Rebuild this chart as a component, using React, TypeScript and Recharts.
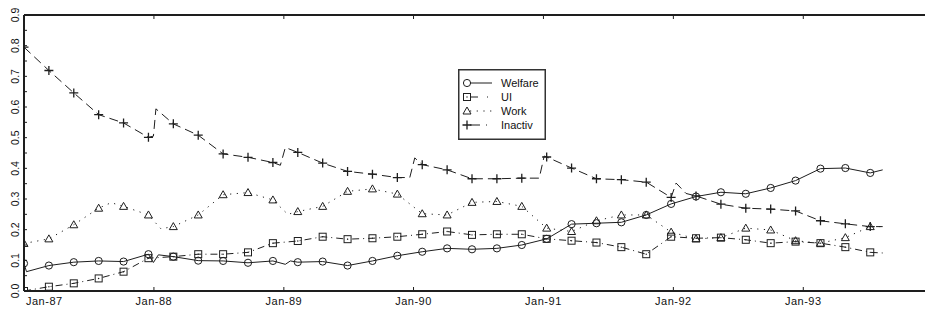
import { Legend, Line, LineChart, XAxis, YAxis } from "recharts";

// x is in weeks since Jan-87; markers sit every 10 weeks
const yearTicks = [0, 52.2, 104.4, 156.5, 208.7, 260.9, 313.1];
const yearLabels = ["Jan-87", "Jan-88", "Jan-89", "Jan-90", "Jan-91", "Jan-92", "Jan-93"];
const yTicks = [
  0, 0.05, 0.1, 0.15, 0.2, 0.25, 0.3, 0.35, 0.4, 0.45, 0.5, 0.55, 0.6, 0.65, 0.7, 0.75, 0.8, 0.85, 0.9,
];

const welfareWeeks = [
  0, 1, 10, 20, 30, 40, 50, 52, 54, 60, 70, 80, 90, 100, 105, 107, 110, 120, 130, 140, 150, 160, 170,
  180, 190, 200, 210, 220, 230, 240, 250, 260, 270, 280, 290, 300, 310, 320, 330, 340, 345,
];
const welfareValues = [
  0.09, 0.063, 0.083, 0.094, 0.098, 0.096, 0.12, 0.093, 0.118, 0.112, 0.099, 0.098, 0.092, 0.098,
  0.087, 0.098, 0.094, 0.096, 0.083, 0.098, 0.115, 0.128, 0.139, 0.136, 0.139, 0.15, 0.17, 0.218,
  0.221, 0.224, 0.248, 0.284, 0.308, 0.322, 0.317, 0.336, 0.36, 0.399, 0.401, 0.385, 0.395,
];

const uiWeeks = [
  0, 10, 20, 30, 40, 50, 60, 70, 80, 90, 100, 110, 120, 130, 140, 150, 160, 170, 180, 190, 200, 210,
  220, 230, 240, 250, 260, 270, 280, 290, 300, 310, 320, 330, 340, 345,
];
const uiValues = [
  0.0, 0.014, 0.025, 0.041, 0.063, 0.107, 0.112, 0.12, 0.12, 0.126, 0.156, 0.163, 0.177, 0.169, 0.172,
  0.177, 0.185, 0.194, 0.183, 0.185, 0.185, 0.17, 0.164, 0.158, 0.143, 0.12, 0.177, 0.172, 0.174,
  0.167, 0.156, 0.161, 0.156, 0.143, 0.126, 0.124,
];

const workWeeks = [
  0, 10, 20, 30, 35, 40, 50, 55, 60, 70, 80, 90, 100, 106, 110, 120, 130, 140, 150, 160, 170, 180, 190,
  200, 210, 220, 230, 240, 250, 260, 270, 280, 290, 300, 310, 320, 330, 340, 345,
];
const workValues = [
  0.155, 0.17, 0.216, 0.27, 0.288, 0.276, 0.248, 0.203, 0.21, 0.248, 0.314, 0.321, 0.297, 0.25, 0.259,
  0.276, 0.325, 0.333, 0.316, 0.252, 0.248, 0.289, 0.292, 0.276, 0.205, 0.194, 0.229, 0.248, 0.248,
  0.192, 0.17, 0.174, 0.205, 0.199, 0.164, 0.156, 0.174, 0.21, 0.21,
];

const inactivWeeks = [
  0, 10, 20, 30, 40, 50, 52, 53, 60, 70, 80, 90, 100, 103, 105, 110, 120, 130, 140, 150, 155, 157, 160,
  170, 180, 190, 200, 207, 209, 210, 220, 230, 240, 250, 260, 262, 266, 270, 280, 290, 300, 310, 320,
  330, 340, 345,
];
const inactivValues = [
  0.795, 0.719, 0.646, 0.575, 0.548, 0.501, 0.505, 0.594, 0.545, 0.508, 0.447, 0.436, 0.419, 0.41,
  0.468, 0.452, 0.417, 0.39, 0.381, 0.37, 0.37, 0.434, 0.412, 0.395, 0.366, 0.366, 0.368, 0.368, 0.44,
  0.437, 0.401, 0.366, 0.363, 0.355, 0.305, 0.352, 0.318, 0.31, 0.283, 0.27, 0.267, 0.261, 0.229,
  0.219, 0.21, 0.21,
];

const rows = (weeks: number[], values: number[]) => weeks.map((w, i) => ({ w, v: values[i] }));

const INK = "#1e1e1e";
const FONT = "'Liberation Sans', Arial, sans-serif";

type Shape = "circle" | "square" | "triangle" | "plus";

const series: { name: string; data: { w: number; v: number }[]; shape: Shape; dash?: string; legendDash?: string }[] = [
  { name: "Welfare", data: rows(welfareWeeks, welfareValues), shape: "circle" },
  { name: "UI", data: rows(uiWeeks, uiValues), shape: "square", dash: "7 4 1 4", legendDash: "8 9 1 30" },
  { name: "Work", data: rows(workWeeks, workValues), shape: "triangle", dash: "1.2 5.5", legendDash: "1.2 5.5" },
  { name: "Inactiv", data: rows(inactivWeeks, inactivValues), shape: "plus", dash: "9 5", legendDash: "10 6 1 30" },
];

function Marker({ shape, x, y }: { shape: Shape; x: number; y: number }) {
  if (shape === "circle") return <circle cx={x} cy={y} r={3.6} fill="none" stroke={INK} strokeWidth={1} />;
  if (shape === "square")
    return (
      <g>
        <rect x={x - 3.5} y={y - 3.5} width={7} height={7} fill="none" stroke={INK} strokeWidth={1} />
        <circle cx={x} cy={y} r={0.7} fill={INK} />
      </g>
    );
  if (shape === "triangle")
    return <path d={`M${x} ${y - 4}L${x + 4} ${y + 3}L${x - 4} ${y + 3}Z`} fill="none" stroke={INK} strokeWidth={1} />;
  return <path d={`M${x - 4.5} ${y}H${x + 4.5}M${x} ${y - 4.5}V${y + 4.5}`} stroke={INK} strokeWidth={1.3} />;
}

const makeDot = (shape: Shape) => (props: any) => {
  const { cx, cy, payload, index } = props;
  if (payload.w % 10 !== 0) return <g key={`d${index}`} />;
  return (
    <g key={`d${index}`}>
      <Marker shape={shape} x={cx} y={cy} />
    </g>
  );
};

const BottomTick = (props: any) => {
  const { x, y, payload } = props;
  const i = yearTicks.indexOf(payload.value);
  const first = i === 0;
  return (
    <g>
      {!first && <line x1={x} x2={x} y1={y} y2={y - 4} stroke={INK} strokeWidth={1} />}
      <text
        x={first ? x + 2 : x}
        y={y + 14}
        textAnchor={first ? "start" : "middle"}
        fontSize={11}
        letterSpacing={0.5}
        fontFamily={FONT}
        fill="#111"
      >
        {yearLabels[i]}
      </text>
    </g>
  );
};

const TopTick = (props: any) => {
  const { x, y } = props;
  return <line x1={x} x2={x} y1={y} y2={y + 4} stroke={INK} strokeWidth={1} />;
};

const LeftTick = (props: any) => {
  const { x, y, payload } = props;
  const v = payload.value as number;
  const labelled = Math.round(v * 100) % 10 === 0;
  return (
    <g>
      <line x1={x} x2={x + 3} y1={y} y2={y} stroke={INK} strokeWidth={1} />
      {labelled && (
        <text
          x={19}
          y={y}
          textAnchor="middle"
          transform={`rotate(-90, 19, ${y})`}
          fontSize={10.5}
          fontFamily={FONT}
          fill="#111"
        >
          {v.toFixed(1)}
        </text>
      )}
    </g>
  );
};

const LegendBox = () => (
  <svg width={88} height={71} style={{ display: "block" }}>
    <rect x={0.75} y={0.75} width={86.5} height={69.5} fill="#fff" stroke="#333" strokeWidth={1.5} />
    {series.map((s, i) => {
      const cy = 14 + i * 14;
      return (
        <g key={s.name}>
          <line x1={12} x2={34} y1={cy} y2={cy} stroke={INK} strokeWidth={1} strokeDasharray={s.legendDash} />
          <Marker shape={s.shape} x={9} y={cy} />
          <text x={43} y={cy + 4} fontSize={11} fontFamily={FONT} fill="#111">
            {s.name}
          </text>
        </g>
      );
    })}
  </svg>
);

export default function App() {
  return (
    <div style={{ position: "absolute", left: 0, top: 0, background: "#fff" }}>
      <LineChart width={925} height={309} margin={{ top: 0, right: 0, bottom: 0, left: 0 }}>
        <XAxis
          xAxisId="top"
          orientation="top"
          type="number"
          dataKey="w"
          domain={[0, 362]}
          allowDataOverflow
          ticks={yearTicks}
          interval={0}
          height={15}
          tickSize={0}
          tickMargin={0}
          tick={TopTick}
          axisLine={{ stroke: INK, strokeWidth: 2 }}
        />
        <XAxis
          type="number"
          dataKey="w"
          domain={[0, 362]}
          allowDataOverflow
          ticks={yearTicks}
          interval={0}
          height={18}
          tickSize={0}
          tickMargin={0}
          tick={BottomTick}
          axisLine={{ stroke: INK, strokeWidth: 2 }}
        />
        <YAxis
          type="number"
          domain={[0, 0.9]}
          allowDataOverflow
          ticks={yTicks}
          interval={0}
          width={24}
          tickSize={0}
          tickMargin={0}
          tick={LeftTick}
          axisLine={{ stroke: INK, strokeWidth: 2 }}
        />
        <Legend
          layout="horizontal"
          verticalAlign="middle"
          align="center"
          content={LegendBox}
          wrapperStyle={{ left: 458, top: 69, width: 88, height: 71 }}
        />
        {series.map((s) => (
          <Line
            key={s.name}
            data={s.data}
            dataKey="v"
            name={s.name}
            type="linear"
            stroke={INK}
            strokeWidth={1}
            strokeDasharray={s.dash}
            dot={makeDot(s.shape)}
            activeDot={false}
            isAnimationActive={false}
          />
        ))}
      </LineChart>
    </div>
  );
}
